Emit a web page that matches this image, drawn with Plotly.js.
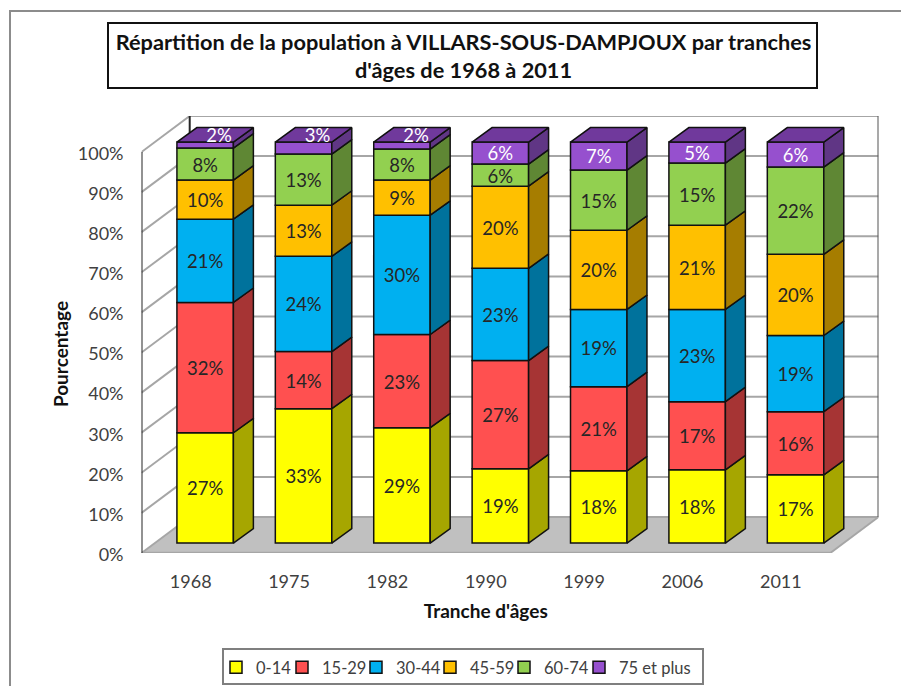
<!DOCTYPE html>
<html><head><meta charset="utf-8">
<script src="https://cdn.plot.ly/plotly-3.0.1.min.js"></script>
<style>html,body{margin:0;padding:0;background:#fff}#c{width:901px;height:686px}</style>
</head><body><div id="c"></div>
<script>
const categories = ['1968','1975','1982','1990','1999','2006','2011'];
const seriesNames = ['0-14','15-29','30-44','45-59','60-74','75 et plus'];
const v014  = [27.5,33.5,28.75,18.5,18,18.25,17];
const v1529 = [32.5,14.25,23.25,27,21,17,15.75];
const v3044 = [20.75,23.75,29.75,23,19.25,23,19];
const v4559 = [9.75,12.75,8.75,20.5,19.75,21,20.25];
const v6074 = [8,12.75,7.75,5.5,15,15.5,21.75];
const v75   = [1.5,3,1.75,5.5,7,5.25,6.25];
const l014  = ['27%','33%','29%','19%','18%','18%','17%'];
const l1529 = ['32%','14%','23%','27%','21%','17%','16%'];
const l3044 = ['21%','24%','30%','23%','19%','23%','19%'];
const l4559 = ['10%','13%','9%','20%','20%','21%','20%'];
const l6074 = ['8%','13%','8%','6%','15%','15%','22%'];
const l75   = ['2%','3%','2%','6%','7%','5%','6%'];
const yTicks = [0,10,20,30,40,50,60,70,80,90,100];
const values = [v014,v1529,v3044,v4559,v6074,v75];
const labels = [l014,l1529,l3044,l4559,l6074,l75];
const frontCol = ['#FFFF00','#FF5050','#00B0F0','#FFC000','#92D050','#9650CE'];
const sideCol  = ['#A6A600','#A63434','#00729C','#A67D00','#5F8734','#603685'];
const legendW  = [21,29,29,29,30,78];
const topCol = '#70399C';
const labelCol = ['#262626','#262626','#262626','#262626','#262626','#FFFFFF'];

// px helpers for the page (paper fractions because margins are zero)
const W=901,H=686, px=x=>x/W, py=y=>1-y/H;
// 3-D projection in data units of the drawing axes
const wallDX=0.49, wallDY=8.98, barOX=0.147, barOY=2.49, barW=0.574, barDX=0.203, barDY=3.6, labelDrop=0.7;

const traces=[], sideTraces=[], labelTraces=[];
const cum = categories.map(()=>0);
values.forEach((vals,s)=>{
  const bases = cum.map(c=>c+barOY);
  traces.push({type:'bar',name:seriesNames[s],x:categories.map((_,i)=>i+barOX),y:vals,base:bases,width:barW,legendwidth:legendW[s],
    xaxis:'x2',yaxis:'y2',marker:{color:frontCol[s],line:{color:'#111',width:1.5}},hoverinfo:'skip'});
  const sx=[],sy=[],lx=[],ly=[];
  vals.forEach((v,i)=>{
    const r=i+barOX+barW/2, b=bases[i], t=b+v;
    sx.push(r,r+barDX,r+barDX,r,r,null); sy.push(b,b+barDY,t+barDY,t,b,null);
    if(v<4){ lx.push(i+barOX+barDX*0.7); ly.push(t+barDY*0.55-labelDrop); }
    else   { lx.push(i+barOX); ly.push(b+v/2-labelDrop); }
    cum[i]+=v;
  });
  sideTraces.push({type:'scatter',mode:'lines',x:sx,y:sy,fill:'toself',fillcolor:sideCol[s],line:{color:'#111',width:1.5},
    xaxis:'x2',yaxis:'y2',showlegend:false,hoverinfo:'skip'});
  labelTraces.push({type:'scatter',mode:'text',x:lx,y:ly,text:labels[s],textposition:'middle center',cliponaxis:false,
    textfont:{family:'Lato, sans-serif',size:18.5,color:labelCol[s]},xaxis:'x2',yaxis:'y2',showlegend:false,hoverinfo:'skip'});
});
const topX=[],topY=[];
categories.forEach((_,i)=>{
  const l=i+barOX-barW/2,r=l+barW,t=cum[i]+barOY;
  topX.push(l,r,r+barDX,l+barDX,l,null); topY.push(t,t,t+barDY,t+barDY,t,null);
});
sideTraces.push({type:'scatter',mode:'lines',x:topX,y:topY,fill:'toself',fillcolor:topCol,line:{color:'#111',width:1.5},
  xaxis:'x2',yaxis:'y2',showlegend:false,hoverinfo:'skip'});
const anchorTrace={type:'scatter',mode:'markers',x:[categories[0]],y:[0],marker:{opacity:0},showlegend:false,hoverinfo:'skip'};

const xL=-0.5,xR=6.5,grid='#A6A6A6',dark='#262626';
const line=(x0,y0,x1,y1,c,w)=>({type:'line',xref:'x2',yref:'y2',x0,y0,x1,y1,layer:'below',line:{color:c,width:w}});
const shapes=[
  {type:'path',xref:'x2',yref:'y2',layer:'below',fillcolor:'#C0C0C0',line:{width:0},
   path:`M ${xL} 0 L ${xR} 0 L ${xR+wallDX} ${wallDY} L ${xL+wallDX} ${wallDY} Z`}
];
yTicks.forEach(t=>{
  shapes.push(line(xL,t,xL+wallDX,t+wallDY,grid,2));
  shapes.push(line(xL+wallDX,t+wallDY,xR+wallDX,t+wallDY,grid,2));
});
shapes.push(line(xL,0,xR,0,grid,2.5));
shapes.push(line(xR,0,xR+wallDX,wallDY,grid,2));
shapes.push(line(xL,0,xL,100,dark,2));
shapes.push(line(xL+wallDX,wallDY,xL+wallDX,100+wallDY,dark,2));
shapes.push(line(xR+wallDX,wallDY,xR+wallDX,100+wallDY,'#555',2));
// chart frame, title box and legend box
const box=(x0,y0,x1,y1,c)=>({type:'rect',xref:'paper',yref:'paper',x0:px(x0),x1:px(x1),y0:py(y0),y1:py(y1),line:{color:c,width:2},fillcolor:'rgba(0,0,0,0)',layer:'below'});
shapes.push(box(10,11,920,700,'#8C8C8C'));
shapes.push(box(108,23,817,88,'#111'));
shapes.push(box(223,649,703,684,'#7F7F7F'));

const layout={
  width:W,height:H,margin:{l:0,r:0,t:0,b:0},paper_bgcolor:'#fff',plot_bgcolor:'rgba(0,0,0,0)',
  font:{family:'Lato, sans-serif',color:'#404040'},
  barmode:'overlay',
  title:{text:'Répartition de la population à VILLARS-SOUS-DAMPJOUX par tranches<br>d\'âges de 1968 à 2011',
    font:{family:'Lato, sans-serif',size:21.75,weight:700,color:'#111'},x:px(463.5),xanchor:'center',y:py(50),yanchor:'middle',yref:'container',automargin:false},
  xaxis:{type:'category',categories:categories,categoryorder:'array',categoryarray:categories,domain:[px(141.5),px(830)],range:[-0.5,6.5],
    anchor:'y',showgrid:false,zeroline:false,showline:false,ticks:'',tickfont:{size:18,color:'#404040'},ticklabelstandoff:14,fixedrange:true,
    title:{text:'Tranche d\'âges',font:{size:19,weight:700,color:'#111'},standoff:14}},
  yaxis:{domain:[py(554.5),py(153.5)],range:[0,100],anchor:'x',tickmode:'array',tickvals:yTicks,ticktext:yTicks.map(t=>t+'%'),
    showgrid:false,zeroline:false,showline:false,ticks:'',tickfont:{size:18,color:'#404040'},ticklabelstandoff:17,fixedrange:true,
    title:{text:'Pourcentage',font:{size:19,weight:700,color:'#111'},standoff:4}},
  xaxis2:{domain:[px(141.5),px(878.5)],range:[xL,xR+wallDX],anchor:'y2',visible:false,fixedrange:true},
  yaxis2:{domain:[py(553),py(116)],range:[0,100+wallDY],anchor:'x2',visible:false,fixedrange:true},
  shapes:shapes,
  legend:{orientation:'h',x:px(216),xanchor:'left',y:py(650),yanchor:'top',borderwidth:0,bgcolor:'rgba(0,0,0,0)',
    font:{size:16.5,color:'#404040'},traceorder:'normal',itemclick:false,itemdoubleclick:false}
};
Plotly.newPlot('c',[anchorTrace].concat(traces,sideTraces,labelTraces),layout,{displayModeBar:false,staticPlot:true});
</script></body></html>
